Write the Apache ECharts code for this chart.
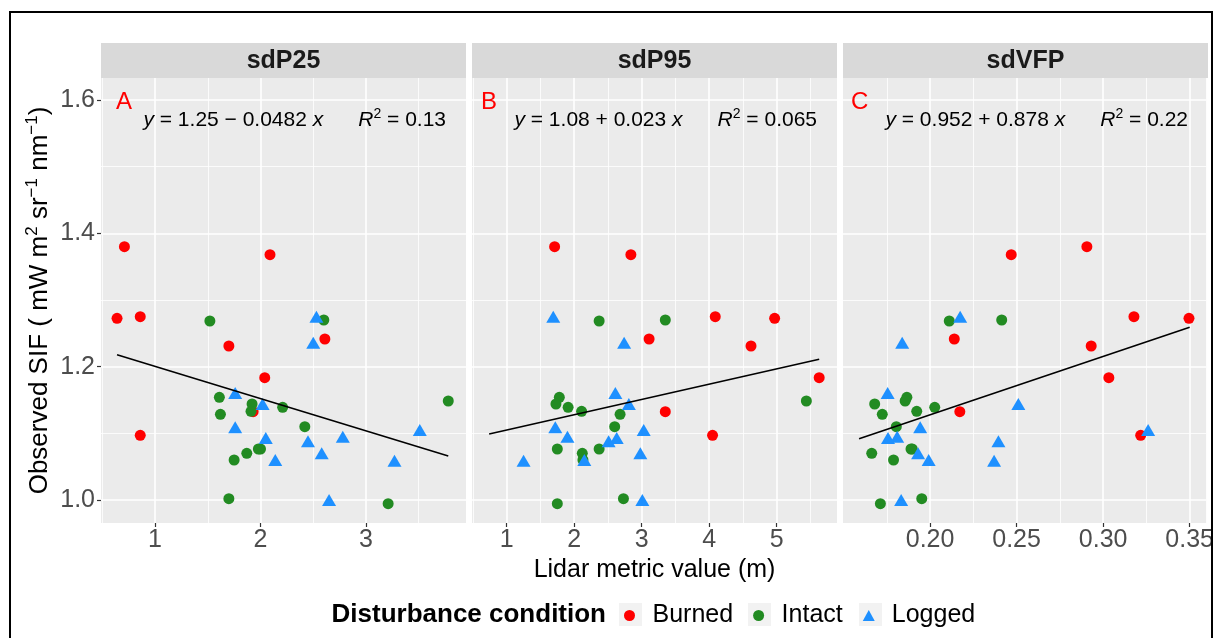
<!DOCTYPE html>
<html>
<head>
<meta charset="utf-8">
<title>Observed SIF vs lidar metrics</title>
<script src="https://cdn.jsdelivr.net/npm/echarts@6/dist/echarts.min.js"></script>
<style>
  html, body { margin: 0; padding: 0; background: #fff; }
  #chart { width: 1217px; height: 638px; }
</style>
</head>
<body>
<div id="chart"></div>
<script>
// observed SIF per disturbance group, same plot order in every facet
const burnedSIF = [1.380, 1.368, 1.275, 1.2725, 1.2415, 1.231, 1.1835, 1.1325, 1.097]
const burnedP25 = [0.71, 2.09, 0.86, 0.64, 2.61, 1.70, 2.04, 1.93, 0.86]
const burnedP95 = [1.71, 2.84, 4.09, 4.97, 3.11, 4.62, 5.63, 3.35, 4.05]
const burnedVFP = [0.2906, 0.2469, 0.3178, 0.3496, 0.2140, 0.2931, 0.3033, 0.2172, 0.3217]

const intactSIF = [1.270, 1.2685, 1.154, 1.1485, 1.144, 1.139, 1.133, 1.1285, 1.110, 1.0765, 1.0765, 1.070, 1.060, 1.002, 0.9945]
const intactP25 = [2.60, 1.52, 1.61, 3.78, 1.92, 2.21, 1.91, 1.62, 2.42, 2.00, 1.98, 1.87, 1.75, 1.70, 3.21]
const intactP95 = [3.35, 2.37, 1.78, 5.44, 1.73, 1.91, 2.11, 2.68, 2.60, 1.75, 2.37, 2.12, 2.13, 2.73, 1.75]
const intactVFP = [0.2414, 0.2111, 0.1866, 0.1856, 0.1680, 0.2027, 0.1923, 0.1724, 0.1805, 0.1897, 0.1890, 0.1663, 0.1789, 0.1952, 0.1713]

const loggedSIF = [1.275, 1.236, 1.1605, 1.144, 1.109, 1.105, 1.095, 1.093, 1.088, 1.070, 1.060, 1.059, 1.000]
const loggedP25 = [2.53, 2.50, 1.76, 2.02, 1.76, 3.51, 2.78, 2.05, 2.45, 2.58, 2.14, 3.27, 2.65]
const loggedP95 = [1.69, 2.74, 2.61, 2.81, 1.72, 3.03, 1.90, 2.63, 2.51, 2.98, 2.15, 1.25, 3.01]
const loggedVFP = [0.2174, 0.1839, 0.1755, 0.2510, 0.1943, 0.3260, 0.1810, 0.1757, 0.2395, 0.1931, 0.1992, 0.2370, 0.1833]

// fitted lm lines (end points)
const fitP25X = [0.64, 3.78]
const fitP25Y = [1.218, 1.066]
const fitP95X = [0.74, 5.63]
const fitP95Y = [1.099, 1.211]
const fitVFPX = [0.159, 0.350]
const fitVFPY = [1.092, 1.259]

// facet labels and fit equations
const facetNames = ['sdP25', 'sdP95', 'sdVFP']
const facetLetters = ['A', 'B', 'C']
const eqIntercept = ['1.25', '1.08', '0.952']
const eqSign = ['\u2212', '+', '+']
const eqSlope = ['0.0482', '0.023', '0.878']
const eqR2 = ['0.13', '0.065', '0.22']

// axis breaks
const yTicks = [1.0, 1.2, 1.4, 1.6]
const yMinor = [1.1, 1.3, 1.5]
const xTicksP25 = [1, 2, 3]
const xMinorP25 = [0.5, 1.5, 2.5, 3.5]
const xTicksP95 = [1, 2, 3, 4, 5]
const xMinorP95 = [0.5, 1.5, 2.5, 3.5, 4.5, 5.5]
const xTicksVFP = [0.20, 0.25, 0.30, 0.35]
const xMinorVFP = [0.175, 0.225, 0.275, 0.325]

const groups = ['Burned', 'Intact', 'Logged']
const groupColors = ['#FF0000', '#228B22', '#1E90FF']

const FONT = "'Liberation Sans', Arial, Helvetica, sans-serif"
const PANEL_TOP = 78
const PANEL_H = 445
const PANEL_W = 365
const Y_MIN = 0.9655
const Y_MAX = 1.633

const panels = [
  { left: 101, xMin: 0.488, xMax: 3.948, ticks: xTicksP25, minor: xMinorP25, digits: 0,
    x: [burnedP25, intactP25, loggedP25], fitX: fitP25X, fitY: fitP25Y, letterX: 116 },
  { left: 472, xMin: 0.486, xMax: 5.894, ticks: xTicksP95, minor: xMinorP95, digits: 0,
    x: [burnedP95, intactP95, loggedP95], fitX: fitP95X, fitY: fitP95Y, letterX: 481 },
  { left: 843, xMin: 0.1497, xMax: 0.3595, ticks: xTicksVFP, minor: xMinorVFP, digits: 2,
    x: [burnedVFP, intactVFP, loggedVFP], fitX: fitVFPX, fitY: fitVFPY, letterX: 851 },
]
const groupSIF = [burnedSIF, intactSIF, loggedSIF]

const grids = []
const xAxes = []
const yAxes = []
const series = []
const graphics = [
  { type: 'rect', shape: { x: 10, y: 12, width: 1202, height: 660 },
    style: { fill: 'none', stroke: '#000', lineWidth: 2 }, z: 100 },
]

panels.forEach((p, i) => {
  grids.push({ left: p.left, top: PANEL_TOP, width: PANEL_W, height: PANEL_H,
    show: true, backgroundColor: '#EBEBEB', borderWidth: 0 })

  xAxes.push({
    gridIndex: i, type: 'value', min: p.xMin, max: p.xMax,
    axisLine: { show: false },
    axisTick: { show: true, customValues: p.ticks, length: 4, lineStyle: { color: '#333', width: 1.2 } },
    axisLabel: { customValues: p.ticks, margin: 5, fontSize: 25, fontFamily: FONT, color: '#4D4D4D',
      formatter: (v) => v.toFixed(p.digits) },
    splitLine: { show: true, lineStyle: { color: '#FFFFFF', width: 1.6 } },
    name: i === 1 ? 'Lidar metric value (m)' : '',
    nameLocation: 'middle', nameGap: 33,
    nameTextStyle: { fontSize: 25, fontFamily: FONT, color: '#000' },
  })
  xAxes.push({
    gridIndex: i, type: 'value', min: p.xMin, max: p.xMax, position: 'bottom',
    axisLine: { show: false }, axisLabel: { show: false },
    axisTick: { show: false, customValues: p.minor },
    splitLine: { show: true, lineStyle: { color: '#FFFFFF', width: 0.8 } },
  })

  yAxes.push({
    gridIndex: i, type: 'value', min: Y_MIN, max: Y_MAX,
    axisLine: { show: false },
    axisTick: { show: i === 0, customValues: yTicks, length: 4, lineStyle: { color: '#333', width: 1.2 } },
    axisLabel: { show: i === 0, customValues: yTicks, margin: 6, fontSize: 25, fontFamily: FONT, color: '#4D4D4D',
      formatter: (v) => v.toFixed(1) },
    splitLine: { show: true, lineStyle: { color: '#FFFFFF', width: 1.6 } },
    name: i === 0 ? 'Observed SIF ( mW m{s|2} sr{s|\u22121} nm{s|\u22121})' : '',
    nameLocation: 'middle', nameGap: 45, nameRotate: 90,
    nameTextStyle: { fontSize: 26, fontFamily: FONT, color: '#000', lineHeight: 32,
      rich: { s: { fontSize: 17, fontFamily: FONT, color: '#000', verticalAlign: 'top', lineHeight: 16 } } },
  })
  yAxes.push({
    gridIndex: i, type: 'value', min: Y_MIN, max: Y_MAX, position: 'left',
    axisLine: { show: false }, axisLabel: { show: false },
    axisTick: { show: false, customValues: yMinor },
    splitLine: { show: true, lineStyle: { color: '#FFFFFF', width: 0.8 } },
  })

  groups.forEach((g, k) => {
    series.push({
      name: g, type: 'scatter', xAxisIndex: 2 * i, yAxisIndex: 2 * i,
      symbol: k === 2 ? 'triangle' : 'circle',
      symbolSize: k === 2 ? [14, 12] : 11,
      itemStyle: { color: groupColors[k], opacity: 1 },
      data: p.x[k].map((x, j) => [x, groupSIF[k][j]]),
      z: 3,
    })
  })
  series.push({
    type: 'line', xAxisIndex: 2 * i, yAxisIndex: 2 * i,
    data: p.fitX.map((x, j) => [x, p.fitY[j]]),
    symbol: 'none', silent: true,
    lineStyle: { color: '#000', width: 1.6 }, z: 4,
  })

  // strip
  graphics.push({ type: 'rect', shape: { x: p.left, y: 43, width: PANEL_W, height: 35 },
    style: { fill: '#D9D9D9' } })
  graphics.push({ type: 'text', x: p.left + PANEL_W / 2, y: 61,
    style: { text: facetNames[i], align: 'center', verticalAlign: 'middle',
      font: `bold 25px ${FONT}`, fill: '#1A1A1A' } })
  // panel letter
  graphics.push({ type: 'text', x: p.letterX, y: 102,
    style: { text: facetLetters[i], align: 'left', verticalAlign: 'middle',
      font: `24px ${FONT}`, fill: '#FF0000' }, z: 10 })
  // equation
  graphics.push({ type: 'text', x: p.left + PANEL_W - 20, y: 120, z: 10,
    style: {
      text: `{i|y} = ${eqIntercept[i]} ${eqSign[i]} ${eqSlope[i]} {i|x}      {i|R}{s|2} = ${eqR2[i]}`,
      align: 'right', verticalAlign: 'middle',
      font: `21px ${FONT}`, fill: '#000', lineHeight: 26,
      rich: {
        i: { fontStyle: 'italic', fontSize: 21, fontFamily: FONT, fill: '#000', lineHeight: 26 },
        s: { fontSize: 14, fontFamily: FONT, fill: '#000', verticalAlign: 'top', lineHeight: 12 },
      },
    } })
})

// legend title and key backgrounds
graphics.push({ type: 'text', x: 606, y: 615,
  style: { text: 'Disturbance condition', align: 'right', verticalAlign: 'middle',
    font: `bold 26px ${FONT}`, fill: '#000' } })
;[619, 748, 859].forEach((x) => {
  graphics.push({ type: 'rect', shape: { x: x, y: 603, width: 23, height: 23 },
    style: { fill: '#F2F2F2' }, z: 0 })
})

const chart = echarts.init(document.getElementById('chart'), null, { renderer: 'canvas' })
chart.setOption({
  backgroundColor: '#FFFFFF',
  animation: false,
  grid: grids,
  xAxis: xAxes,
  yAxis: yAxes,
  series: series,
  legend: {
    left: 619, top: 598,
    data: [
      { name: 'Burned', icon: 'circle' },
      { name: 'Intact', icon: 'circle' },
      { name: 'Logged', icon: 'triangle' },
    ],
    itemWidth: 12, itemHeight: 11, itemGap: 20,
    textStyle: { fontSize: 25, fontFamily: FONT, color: '#000', padding: [0, 0, 0, 12] },
    selectedMode: false,
    z: 5,
  },
  graphic: graphics,
})
</script>
</body>
</html>
